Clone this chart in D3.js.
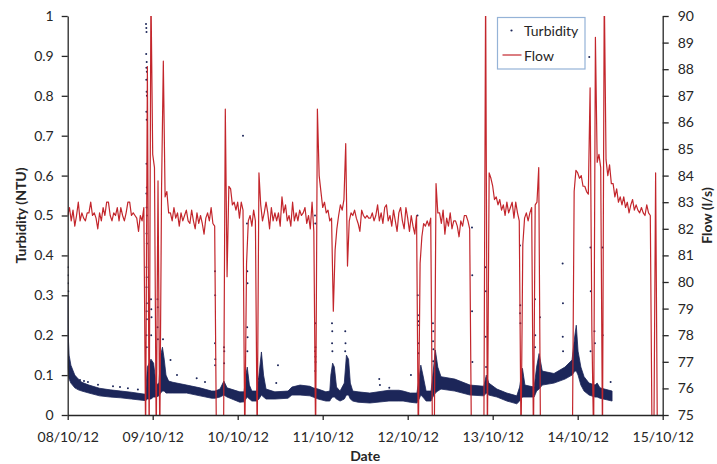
<!DOCTYPE html>
<html>
<head>
<meta charset="utf-8">
<script src="https://cdn.jsdelivr.net/npm/d3@7"></script>
<style>
  body { margin: 0; background: #fff; }
  svg { font-family: Lato, "Open Sans", sans-serif; }
</style>
</head>
<body>
<svg id="chart" width="717" height="464"></svg>
<script>

// x axis: hours since 08/10/12 00:00, one label per day
var dateHours = [0, 24, 48, 72, 96, 120, 144, 168];
var dateLabels = ["08/10/12", "09/10/12", "10/10/12", "11/10/12", "12/10/12", "13/10/12", "14/10/12", "15/10/12"];
var turbTicks = [0, 0.1, 0.2, 0.3, 0.4, 0.5, 0.6, 0.7, 0.8, 0.9, 1];
var flowTicks = [75, 76, 77, 78, 79, 80, 81, 82, 83, 84, 85, 86, 87, 88, 89, 90];

// flow (l/s), one reading every 30 min from 08/10/12 00:00
var flowStepHours = 0.5;
var flowValues = [
  82.5, 82.8, 82.3, 82.7, 82.1, 82.5, 83.0, 82.3, 82.6, 82.4, 82.3, 82.6,
  82.6, 83.0, 82.5, 82.6, 82.4, 82.0, 82.6, 82.3, 82.8, 82.5, 83.0, 83.0,
  82.5, 82.3, 82.6, 82.5, 82.8, 82.3, 82.8, 82.5, 82.3, 82.6, 83.0, 83.0,
  82.5, 82.6, 82.5, 82.4, 81.9, 82.5, 82.3, 82.8, 74, 88.1, 74, 91,
  84.8, 84.3, 74, 83.8, 74, 83.5, 88.3, 83.2, 83.4, 82.6, 82.6, 82.3,
  82.8, 82.4, 82.6, 82.1, 82.6, 82.3, 82.5, 82.7, 82.3, 82.2, 82.7, 82.3,
  82.0, 82.6, 82.2, 82.5, 82.2, 81.8, 82.4, 82.6, 82.3, 82.8, 82.2, 82.1,
  74, 74, 74, 74, 74, 86.5, 80.2, 83.6, 83.5, 82.9, 83.0, 82.7,
  83.0, 82.4, 83.0, 82.7, 74, 80.7, 82.3, 82.5, 82.1, 82.7, 82.3, 74,
  84.1, 82.9, 82.3, 82.6, 83.0, 82.6, 82.0, 82.8, 82.3, 82.6, 82.3, 82.6,
  82.1, 83.2, 82.6, 82.9, 82.3, 82.5, 82.1, 83.0, 82.3, 82.6, 82.3, 82.7,
  82.5, 82.6, 82.8, 82.2, 82.5, 82.0, 83.0, 81.9, 74, 86.5, 84.0, 83.4,
  82.8, 83.0, 82.6, 82.7, 82.3, 82.4, 78.9, 81.2, 82.0, 82.5, 82.9, 82.7,
  83.1, 85.2, 80.6, 82.3, 82.6, 82.5, 82.7, 82.4, 82.2, 81.9, 82.7, 82.5,
  82.4, 82.5, 82.4, 82.4, 82.6, 82.3, 82.5, 82.9, 82.3, 82.6, 82.2, 82.8,
  82.9, 82.3, 82.5, 82.1, 82.7, 82.3, 81.9, 82.6, 82.8, 82.3, 82.0, 82.8,
  82.4, 81.9, 82.5, 82.1, 81.8, 82.5, 74, 80.7, 81.7, 82.2, 82.1, 82.3,
  82.1, 82.4, 74, 74, 83.7, 82.6, 82.6, 82.2, 82.7, 81.8, 82.4, 82.1,
  82.6, 82.0, 82.3, 82.3, 82.1, 81.7, 82.3, 82.1, 82.5, 82.5, 82.3, 82.0,
  74, 74, 74, 74, 74, 74, 74, 74, 91, 74, 84.1, 83.9,
  83.6, 83.1, 83.2, 82.9, 83.1, 82.7, 82.9, 82.5, 83.0, 82.6, 82.8, 83.0,
  82.4, 83.0, 82.6, 82.3, 74, 81.4, 82.4, 82.6, 82.3, 82.6, 82.8, 74,
  82.9, 83.0, 84.3, 74, 74, 74, 74, 74, 74, 74, 74, 74,
  74, 74, 74, 74, 74, 74, 74, 74, 74, 74, 83.4, 84.2,
  84.1, 83.9, 84.0, 83.6, 83.6, 83.4, 83.3, 87.3, 78.2, 74, 89.2, 84.5,
  84.8, 84.3, 74, 91, 84.6, 84.0, 84.4, 83.7, 83.7, 83.2, 83.5, 83.0,
  83.2, 82.9, 83.2, 82.8, 83.0, 82.6, 82.9, 83.1, 82.7, 82.9, 82.7, 82.6,
  82.8, 82.6, 82.5, 82.9, 82.6, 82.5, 74, 74, 84.1, 74
];

// turbidity (NTU): the dense cloud of 1-min readings, as low/high edges
var turbBandHours = [0, 0.15, 0.4, 0.9, 2, 3, 4, 6, 9, 12, 15, 18, 21, 22,
  22.5, 23.5, 24.25, 25, 25.75, 26.25, 26.75, 27.25, 27.75, 28.5, 29.7, 33.6, 37.35, 40.65,
  41.6, 43, 44.1, 45, 48.6, 49.8, 50.3, 50.7, 51.3, 52, 53.4, 54, 54.7, 55.3, 56, 58.5,
  62.2, 63.3, 65.6, 68.4, 69.3, 70.7, 72.9, 74, 74.3, 74.8, 75.3, 75.9, 76.9, 78.1, 78.7,
  79.3, 79.8, 80.5, 82, 85.3, 90.7, 93.5, 94.7, 96.7, 98.6, 99.2, 99.7, 100.3, 101.2, 102.6,
  103.1, 103.8, 104.5, 105.4, 109.3, 113.6, 117.5, 118.2, 118.9, 121.2, 124, 126.8, 127.6,
  128.4, 129.1, 131.7, 132.4, 133.1, 134, 137.3, 140.4, 142.4, 143.2, 143.6, 144.1, 144.9,
  145.8, 147.2, 148.9, 149.5, 150.3, 153.7];
var turbBandLow = [0.12, 0.10, 0.09, 0.08, 0.068, 0.063, 0.06, 0.055, 0.048, 0.045, 0.043, 0.04, 0.037, 0.036,
  0.04, 0.04, 0.045, 0.045, 0.048, 0.055, 0.06, 0.06, 0.055, 0.055, 0.055, 0.055, 0.048, 0.042,
  0.042, 0.045, 0.05, 0.045, 0.032, 0.033, 0.04, 0.045, 0.04, 0.035, 0.035, 0.04, 0.05, 0.045, 0.04, 0.04,
  0.042, 0.05, 0.05, 0.048, 0.045, 0.04, 0.035, 0.035, 0.04, 0.045, 0.045, 0.04, 0.035, 0.04, 0.05,
  0.05, 0.04, 0.035, 0.032, 0.03, 0.035, 0.035, 0.035, 0.032, 0.03, 0.04, 0.05, 0.045, 0.035, 0.035,
  0.045, 0.055, 0.06, 0.065, 0.06, 0.05, 0.048, 0.055, 0.05, 0.045, 0.035, 0.028, 0.035,
  0.045, 0.045, 0.045, 0.06, 0.065, 0.075, 0.08, 0.09, 0.1, 0.11, 0.11, 0.1, 0.075,
  0.06, 0.05, 0.045, 0.045, 0.042, 0.035];
var turbBandHigh = [0.30, 0.20, 0.15, 0.125, 0.10, 0.09, 0.082, 0.075, 0.067, 0.063, 0.06, 0.057, 0.053, 0.052,
  0.12, 0.14, 0.13, 0.075, 0.08, 0.15, 0.17, 0.14, 0.1, 0.085, 0.082, 0.075, 0.068, 0.06,
  0.06, 0.065, 0.085, 0.068, 0.058, 0.058, 0.1, 0.12, 0.075, 0.06, 0.06, 0.1, 0.158, 0.1, 0.065, 0.058,
  0.06, 0.07, 0.075, 0.072, 0.068, 0.065, 0.058, 0.06, 0.1, 0.13, 0.12, 0.07, 0.06, 0.08, 0.15,
  0.14, 0.08, 0.06, 0.058, 0.055, 0.062, 0.062, 0.06, 0.055, 0.055, 0.09, 0.125, 0.1, 0.06, 0.06,
  0.1, 0.163, 0.12, 0.096, 0.09, 0.075, 0.072, 0.1, 0.08, 0.065, 0.055, 0.048, 0.07,
  0.117, 0.075, 0.07, 0.12, 0.154, 0.11, 0.104, 0.12, 0.138, 0.2, 0.225, 0.16, 0.12,
  0.096, 0.08, 0.075, 0.08, 0.068, 0.06];

// turbidity readings standing clear of the cloud
var turbSpotHours = [0.06, 0.08, 0.11, 0.17, 3.47, 4.6, 5.72, 8.55, 12.79, 14.77, 17.0, 19.82,
  22.11, 22.19, 22.25, 22.16, 22.3, 22.22, 22.33, 22.19, 22.28, 22.36, 22.22, 22.3, 22.25, 22.33,
  22.22, 22.28, 22.36, 22.25, 22.33, 22.22, 22.3, 22.25, 22.33, 22.28, 22.36, 22.25, 22.3,
  23.52, 23.6, 23.66, 23.57, 25.35, 25.44, 25.38, 25.47, 26.91, 29.02, 30.86, 36.42, 38.76,
  41.59, 41.64, 41.59, 41.67, 41.62, 44.13, 44.21, 44.16, 49.49,
  50.62, 50.71, 50.76, 50.68, 50.79, 50.73, 53.92, 58.89, 59.37,
  69.82, 69.9, 69.88, 69.96, 69.85, 69.93, 69.99, 69.9, 74.62, 74.7, 74.65, 74.73, 78.37, 78.43, 78.35,
  87.97, 88.17, 90.8, 96.92, 98.76, 98.84, 98.9, 98.96, 98.87, 98.93, 98.98,
  103.13, 103.22, 103.16, 103.25, 103.19, 114.15, 114.23, 114.17, 114.26, 117.96, 118.1, 118.04, 118.15,
  127.7, 127.78, 127.72, 127.81, 131.93, 132.02, 131.96, 133.34, 139.75, 139.84, 139.78, 139.86,
  147.26, 147.6, 147.68, 147.63, 148.73, 148.87, 150.99, 151.07, 153.3];
var turbSpotValues = [0.37, 0.35, 0.33, 0.31, 0.088, 0.085, 0.083, 0.076, 0.072, 0.07, 0.067, 0.064,
  0.98, 0.97, 0.96, 0.905, 0.885, 0.87, 0.86, 0.84, 0.81, 0.80, 0.76, 0.74, 0.63, 0.57,
  0.555, 0.52, 0.5, 0.455, 0.43, 0.37, 0.345, 0.32, 0.28, 0.26, 0.24, 0.2, 0.17,
  0.29, 0.265, 0.245, 0.2, 0.29, 0.27, 0.22, 0.19, 0.19, 0.138, 0.1, 0.092, 0.083,
  0.36, 0.3, 0.18, 0.14, 0.125, 0.17, 0.16, 0.13, 0.7,
  0.48, 0.36, 0.33, 0.22, 0.195, 0.16, 0.09, 0.08, 0.125,
  0.5, 0.48, 0.23, 0.17, 0.16, 0.146, 0.133, 0.11, 0.23, 0.21, 0.18, 0.16, 0.21, 0.18, 0.16,
  0.09, 0.075, 0.068, 0.1, 0.5, 0.3, 0.25, 0.235, 0.225, 0.18, 0.155,
  0.23, 0.21, 0.185, 0.165, 0.135, 0.47, 0.35, 0.26, 0.133, 0.37, 0.31, 0.196, 0.12,
  0.425, 0.275, 0.255, 0.23, 0.29, 0.2, 0.17, 0.245, 0.38, 0.28, 0.196, 0.16,
  0.897, 0.42, 0.31, 0.16, 0.21, 0.18, 0.42, 0.2, 0.083];

var navy = "#1c2659", red = "#c3262c", ink = "#262626";

var margin = { top: 16, right: 54.3, bottom: 49, left: 67.7 };
var width = 717 - margin.left - margin.right;
var height = 464 - margin.top - margin.bottom;

var svg = d3.select("#chart");
var g = svg.append("g")
    .attr("transform", "translate(" + margin.left + "," + margin.top + ")");

var x = d3.scaleLinear().domain([0, 168]).range([0, width]);
var yTurb = d3.scaleLinear().domain([0, 1]).range([height, 0]);
var yFlow = d3.scaleLinear().domain([75, 90]).range([height, 0]);

g.append("clipPath").attr("id", "plotclip")
  .append("rect").attr("x", 0).attr("y", 0).attr("width", width).attr("height", height);

var plot = g.append("g").attr("clip-path", "url(#plotclip)");

// turbidity cloud
var band = turbBandHours.map(function(h, i) {
  return { h: h, lo: turbBandLow[i], hi: turbBandHigh[i] };
});
var area = d3.area()
    .x(function(d) { return x(d.h); })
    .y0(function(d) { return yTurb(d.lo); })
    .y1(function(d) { return yTurb(d.hi); });
plot.append("path")
    .datum(band)
    .attr("fill", navy)
    .attr("stroke", navy)
    .attr("stroke-width", 0.8)
    .attr("d", area);

plot.selectAll("circle.spot")
    .data(turbSpotHours)
    .enter().append("circle")
    .attr("class", "spot")
    .attr("cx", function(d) { return x(d); })
    .attr("cy", function(d, i) { return yTurb(turbSpotValues[i]); })
    .attr("r", 1)
    .attr("fill", navy);

// flow
var flowLine = d3.line()
    .x(function(d, i) { return x(i * flowStepHours); })
    .y(function(d) { return yFlow(d); });
plot.append("path")
    .datum(flowValues)
    .attr("fill", "none")
    .attr("stroke", red)
    .attr("stroke-width", 1.2)
    .attr("stroke-linejoin", "round")
    .attr("d", flowLine);

// axes
function styleAxis(sel) {
  sel.selectAll("path, line").attr("stroke", ink).attr("stroke-width", 1.3);
  sel.selectAll("text").attr("fill", ink).attr("font-size", 14);
}

g.append("g")
    .attr("transform", "translate(0," + height + ")")
    .call(d3.axisBottom(x).tickValues(dateHours)
      .tickFormat(function(d, i) { return dateLabels[i]; })
      .tickSize(5).tickSizeOuter(0).tickPadding(12))
    .call(styleAxis)
    .attr("font-family", null);

g.append("g")
    .call(d3.axisLeft(yTurb).tickValues(turbTicks)
      .tickFormat(d3.format("~g"))
      .tickSize(6).tickSizeOuter(0).tickPadding(8))
    .call(styleAxis)
    .attr("font-family", null);

g.append("g")
    .attr("transform", "translate(" + width + ",0)")
    .call(d3.axisRight(yFlow).tickValues(flowTicks)
      .tickSize(6).tickSizeOuter(0).tickPadding(9))
    .call(styleAxis)
    .attr("font-family", null);

// axis titles
svg.append("text")
    .attr("transform", "translate(26," + (margin.top + height / 2) + ") rotate(-90)")
    .attr("text-anchor", "middle")
    .attr("font-weight", "bold").attr("font-size", 14).attr("fill", ink)
    .text("Turbidity (NTU)");

svg.append("text")
    .attr("transform", "translate(712," + (margin.top + height / 2) + ") rotate(-90)")
    .attr("text-anchor", "middle")
    .attr("font-weight", "bold").attr("font-size", 14).attr("fill", ink)
    .text("Flow (l/s)");

svg.append("text")
    .attr("x", margin.left + width / 2)
    .attr("y", 461)
    .attr("text-anchor", "middle")
    .attr("font-weight", "bold").attr("font-size", 14).attr("fill", ink)
    .text("Date");

// legend
var legend = svg.append("g").attr("transform", "translate(497.5,17.5)");
legend.append("rect")
    .attr("width", 87.5).attr("height", 51.5)
    .attr("fill", "#fff").attr("stroke", "#95b3d7").attr("stroke-width", 1.2);
legend.append("circle").attr("cx", 14).attr("cy", 13).attr("r", 1.1).attr("fill", navy);
legend.append("text").attr("x", 26.5).attr("y", 18).attr("font-size", 14).attr("fill", ink).text("Turbidity");
legend.append("line").attr("x1", 5).attr("x2", 24).attr("y1", 37.5).attr("y2", 37.5)
    .attr("stroke", red).attr("stroke-width", 1.2);
legend.append("text").attr("x", 26.5).attr("y", 43).attr("font-size", 14).attr("fill", ink).text("Flow");

</script>
</body>
</html>
